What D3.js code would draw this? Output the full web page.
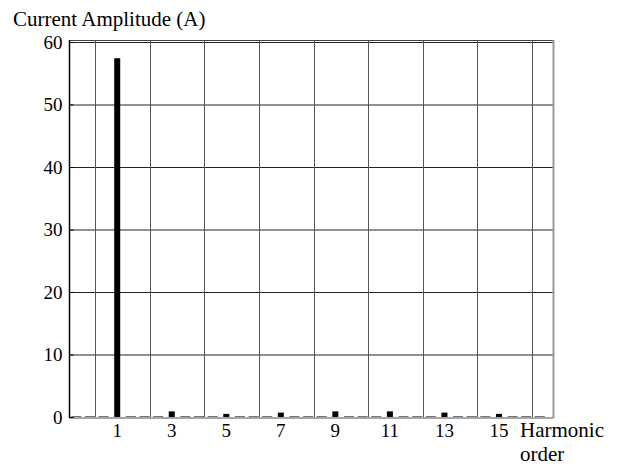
<!DOCTYPE html>
<html>
<head>
<meta charset="utf-8">
<script src="https://cdn.jsdelivr.net/npm/d3@7/dist/d3.min.js"></script>
<style>
  body { margin: 0; background: #fff; }
</style>
</head>
<body>
<svg id="chart" width="618" height="467" font-family="'Liberation Serif', 'DejaVu Serif', Times, serif"></svg>
<script>
const width = 618, height = 467;

// harmonic orders and amplitudes (A)
const harmonics = [1, 3, 5, 7, 9, 11, 13, 15];
const amplitudes = [57.4, 0.9, 0.5, 0.7, 0.9, 0.9, 0.7, 0.5];
// small spectrum leakage between the odd harmonics
const otherBins = [-0.5, 0, 0.5, 1.5, 2, 2.5, 3.5, 4, 4.5, 5.5, 6, 6.5, 7.5, 8, 8.5, 9.5, 10, 10.5,
  11.5, 12, 12.5, 13.5, 14, 14.5, 15.5, 16, 16.5];
const otherValues = otherBins.map(() => 0.1);

const yTicks = [0, 10, 20, 30, 40, 50, 60];
const xGrid = [0.2, 2.2, 4.2, 6.2, 8.2, 10.2, 12.2, 14.2, 16.2];

const plotLeft = 69.5, plotRight = 553.5, plotTop = 42, plotBottom = 417;

const svg = d3.select('#chart');

const x = d3.scaleLinear().domain([-0.75, 17]).range([plotLeft, plotRight]);
const y = d3.scaleLinear().domain([0, 60]).range([plotBottom, plotTop]);

// horizontal grid
svg.append('g')
  .selectAll('line')
  .data(yTicks.filter(d => d > 0))
  .enter()
  .append('line')
  .attr('x1', plotLeft).attr('x2', plotRight)
  .attr('y1', d => y(d) + 0.5).attr('y2', d => y(d) + 0.5)
  .attr('stroke', '#222')
  .attr('stroke-width', 1);

// vertical grid
svg.append('g')
  .selectAll('line')
  .data(xGrid)
  .enter()
  .append('line')
  .attr('x1', d => Math.round(x(d)) + 0.5).attr('x2', d => Math.round(x(d)) + 0.5)
  .attr('y1', plotTop - 2).attr('y2', plotBottom)
  .attr('stroke', '#555')
  .attr('stroke-width', 1);

// top border (double line with the 60 grid line)
svg.append('line')
  .attr('x1', plotLeft).attr('x2', plotRight)
  .attr('y1', plotTop - 1.5).attr('y2', plotTop - 1.5)
  .attr('stroke', '#444');

// right border
svg.append('line')
  .attr('x1', plotRight).attr('x2', plotRight)
  .attr('y1', plotTop - 2).attr('y2', plotBottom + 1)
  .attr('stroke', '#999')
  .attr('stroke-width', 2);

// baseline
svg.append('line')
  .attr('x1', plotLeft).attr('x2', plotRight)
  .attr('y1', plotBottom + 1).attr('y2', plotBottom + 1)
  .attr('stroke', '#888')
  .attr('stroke-width', 1.5);

// leakage bins
svg.append('g')
  .selectAll('rect')
  .data(otherBins)
  .enter()
  .append('rect')
  .attr('x', d => x(d) - 5)
  .attr('width', 10)
  .attr('y', (d, i) => y(otherValues[i]))
  .attr('height', (d, i) => y(0) - y(otherValues[i]))
  .attr('fill', '#222');

// harmonic bars
svg.append('g')
  .selectAll('rect')
  .data(harmonics)
  .enter()
  .append('rect')
  .attr('x', d => x(d) - 3)
  .attr('width', 6)
  .attr('y', (d, i) => y(amplitudes[i]))
  .attr('height', (d, i) => y(0) - y(amplitudes[i]))
  .attr('fill', '#000');

// y axis
const yAxis = d3.axisLeft(y)
  .tickValues(yTicks)
  .tickSizeInner(-4)
  .tickSizeOuter(0)
  .tickPadding(7);

const yg = svg.append('g')
  .attr('transform', `translate(${plotLeft},0)`)
  .call(yAxis)
  .attr('font-family', null)
  .attr('font-size', 19);
yg.select('.domain').attr('stroke', '#000').attr('stroke-width', 1.5)
  .attr('d', `M0,${plotTop - 2}V${plotBottom + 1}`);
yg.selectAll('.tick line').attr('stroke', '#000');
yg.selectAll('.tick text')
  .attr('fill', '#000')
  .attr('dy', '0.34em');

// x tick labels
svg.append('g')
  .selectAll('text')
  .data(harmonics)
  .enter()
  .append('text')
  .attr('x', d => x(d))
  .attr('y', 437)
  .attr('text-anchor', 'middle')
  .attr('font-size', 19)
  .text(d => d);

// axis titles
svg.append('text')
  .attr('x', 13)
  .attr('y', 26)
  .attr('font-size', 21)
  .text('Current Amplitude (A)');

svg.append('text')
  .attr('x', 520)
  .attr('y', 437)
  .attr('font-size', 21)
  .text('Harmonic');

svg.append('text')
  .attr('x', 520)
  .attr('y', 461)
  .attr('font-size', 21)
  .text('order');
</script>
</body>
</html>
